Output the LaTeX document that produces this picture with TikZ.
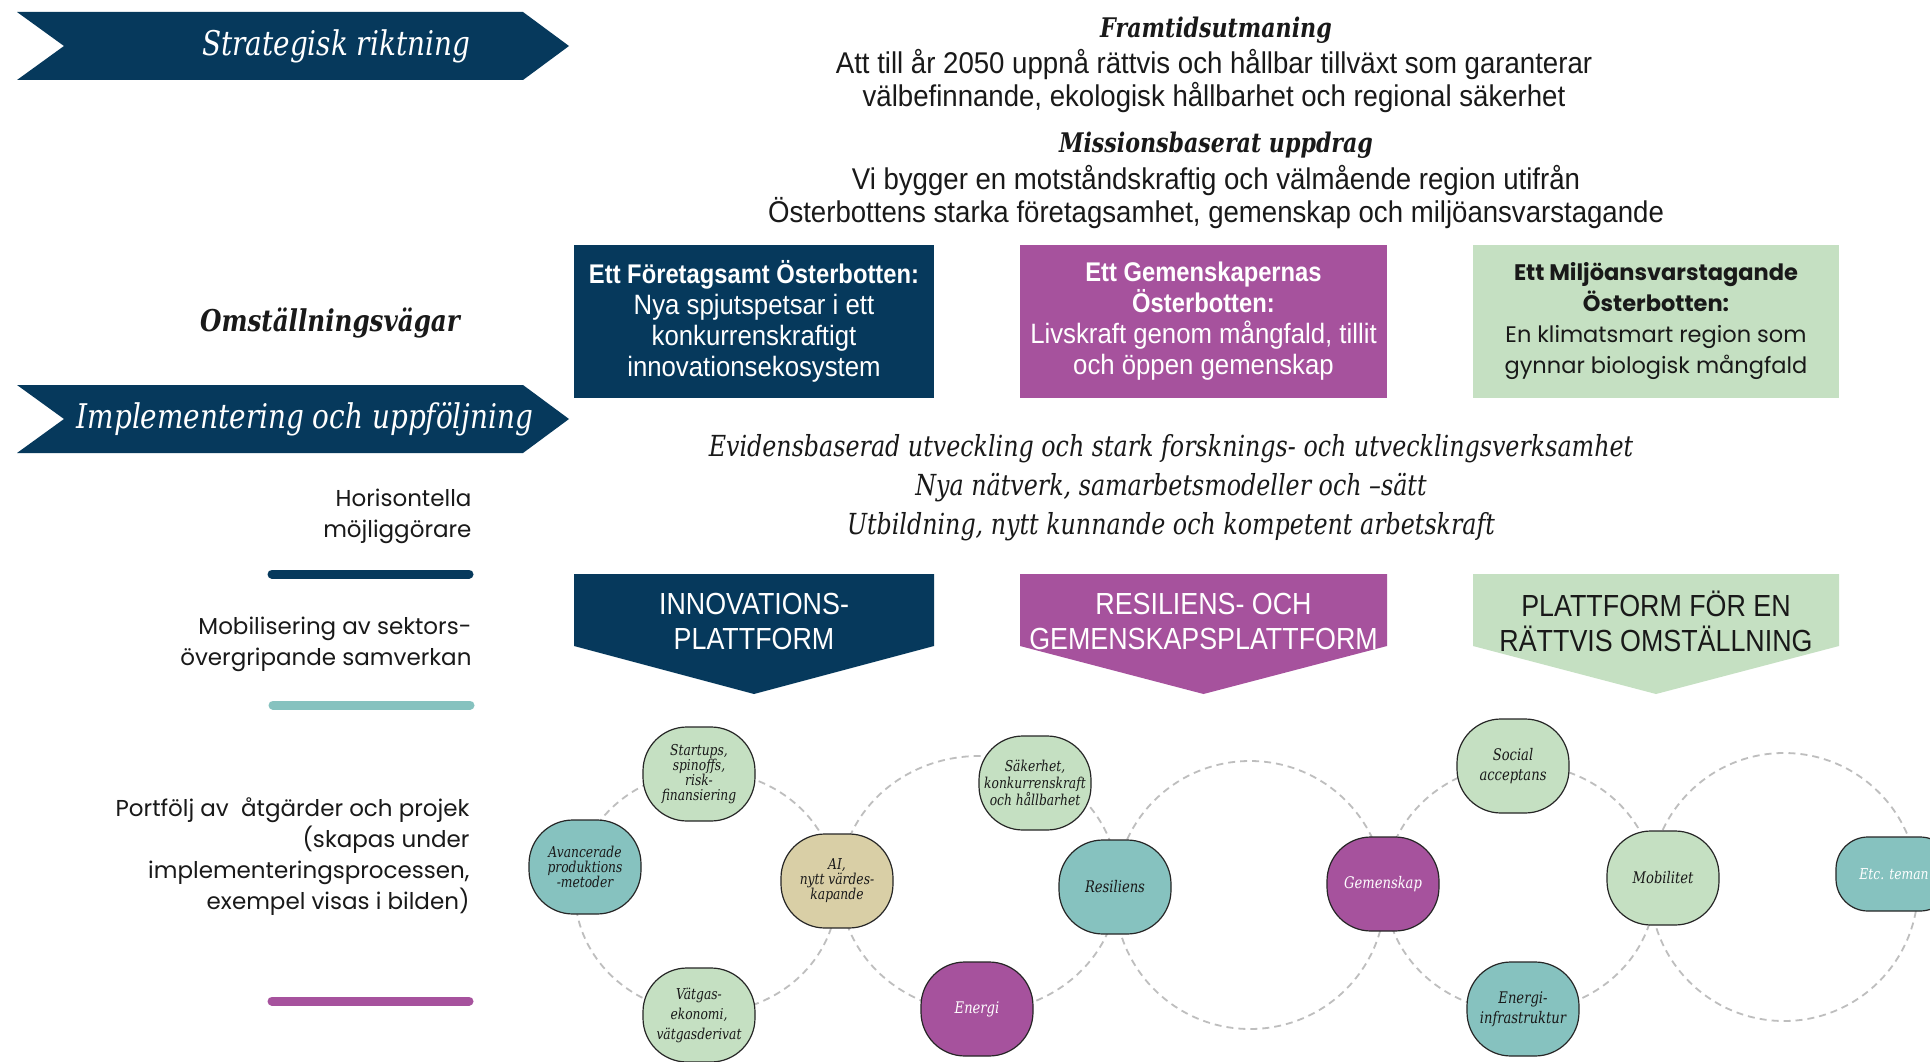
\documentclass[tikz,border=0pt]{standalone}
\usepackage{fontspec}
\setmainfont{Liberation Sans}
\newfontfamily\condsans[FakeStretch=0.88]{Liberation Sans}
\newfontfamily\condsansw[FakeStretch=0.92]{Liberation Sans}
\newfontfamily\slab[FakeStretch=0.82]{DejaVu Serif}
\newfontfamily\pop{Poppins}
\definecolor{navy}{RGB}{6,57,92}
\definecolor{purp}{RGB}{166,82,157}
\definecolor{lgreen}{RGB}{197,224,194}
\definecolor{teal}{RGB}{134,194,191}
\definecolor{tan}{RGB}{217,207,166}
\definecolor{dgray}{RGB}{190,190,190}
\definecolor{ink}{RGB}{25,25,25}
\begin{document}
\begin{tikzpicture}[x=1pt,y=-1pt,
  chev/.style={fill=navy},
  chevtext/.style={text=white,font=\slab\itshape\fontsize{34}{38}\selectfont},
  head/.style={text=ink,font=\slab\bfseries\itshape\fontsize{27}{32}\selectfont},
  toptext/.style={text=ink,align=center,font=\condsansw\fontsize{30}{33}\selectfont},
  ittext/.style={text=ink,font=\slab\itshape\fontsize{29}{32}\selectfont},
  vbox/.style={minimum width=360pt,minimum height=153pt,align=center,inner sep=0pt,
     font=\condsansw\fontsize{28}{31}\selectfont},
  boldl/.style={font=\condsans\bfseries\fontsize{27}{31}\selectfont},
  gbox/.style={minimum width=366pt,minimum height=153pt,align=center,inner sep=0pt,
     font=\pop\fontsize{22.5}{31}\selectfont},
  plat/.style={align=center,font=\condsans\fontsize{30.5}{35}\selectfont},
  lefttext/.style={anchor=east,align=right,text=ink,font=\pop\fontsize{23}{31}\selectfont},
  bar/.style={line width=9pt,line cap=round},
  dashcirc/.style={draw=dgray,line width=1.8pt,dash pattern=on 7pt off 5pt},
  tnode/.style={draw=black!85,line width=1.2pt,rounded corners=44pt,minimum width=112pt,
     minimum height=94pt,align=center,inner sep=1pt,text=ink,
     font=\slab\itshape\fontsize{15}{15}\selectfont},
  gn/.style={tnode,fill=lgreen},
  tn/.style={tnode,fill=teal},
  pn/.style={tnode,fill=purp,text=white},
  an/.style={tnode,fill=tan}
]
\clip (0,0) rectangle (1930,1062);
\fill[white] (0,0) rectangle (1930,1062);

% chevrons
\fill[chev] (17,12) -- (523,12) -- (569,46) -- (523,80) -- (17,80) -- (64,46) -- cycle;
\node[chevtext] (strat) at (336,46) {Strategisk riktning};
\fill[chev] (17,385) -- (523,385) -- (569,419) -- (523,453) -- (17,453) -- (64,419) -- cycle;
\node[chevtext] (impl) at (305,419) {Implementering och uppföljning};

% top texts
\node[head] (fram) at (1216,30) {Framtidsutmaning};
\node[toptext] (framt) at (1214,81) {Att till år 2050 uppnå rättvis och hållbar tillväxt som garanterar\\välbefinnande, ekologisk hållbarhet och regional säkerhet};
\node[head] (miss) at (1216,145) {Missionsbaserat uppdrag};
\node[toptext] (misst) at (1216,197) {Vi bygger en motståndskraftig och välmående region utifrån\\Österbottens starka företagsamhet, gemenskap och miljöansvarstagande};

\node[head,font=\slab\bfseries\itshape\fontsize{30}{34}\selectfont] (oms) at (330,323) {Omställningsvägar};

% boxes
\node[vbox,fill=navy,text=white] (b1) at (754,321.5) {{\condsans\bfseries\fontsize{27}{31}\selectfont Ett Företagsamt Österbotten:}\\Nya spjutspetsar i ett\\konkurrenskraftigt\\innovationsekosystem};
\node[vbox,fill=purp,text=white,minimum width=367pt] (b2) at (1203.5,321.5) {{\condsans\bfseries\fontsize{27}{31}\selectfont Ett Gemenskapernas}\\{\condsans\bfseries\fontsize{27}{31}\selectfont Österbotten:}\\Livskraft genom mångfald, tillit\\och öppen gemenskap};
\node[gbox,fill=lgreen,text=ink] (b3) at (1656,321.5) {{\bfseries Ett Miljöansvarstagande}\\{\bfseries Österbotten:}\\En klimatsmart region som\\gynnar biologisk mångfald};

% italic enablers
\node[ittext] (e1) at (1171,449) {Evidensbaserad utveckling och stark forsknings- och utvecklingsverksamhet};
\node[ittext] (e2) at (1171,488) {Nya nätverk, samarbetsmodeller och –sätt};
\node[ittext] (e3) at (1171,527) {Utbildning, nytt kunnande och kompetent arbetskraft};

% left labels and bars
\node[lefttext] (l1) at (475,516) {Horisontella\\möjliggörare};
\draw[bar,navy] (272,574) -- (469,574);
\node[lefttext] (l2) at (475,644) {Mobilisering av sektors-\\övergripande samverkan};
\draw[bar,teal] (273,705) -- (470,705);
\node[lefttext] (l3) at (473,857) {Portfölj av\ \ åtgärder och projek\\(skapas under\\implementeringsprocessen,\\exempel visas i bilden)};
\draw[bar,purp] (272,1001) -- (469,1001);

% platforms
\fill[navy] (574,574) -- (934,574) -- (934,646) -- (754,694) -- (574,646) -- cycle;
\node[plat,text=white] (p1) at (754,621) {INNOVATIONS-\\PLATTFORM};
\fill[purp] (1020,574) -- (1387,574) -- (1387,646) -- (1203.5,694) -- (1020,646) -- cycle;
\node[plat,text=white] (p2) at (1203.5,621) {RESILIENS- OCH\\GEMENSKAPSPLATTFORM};
\fill[lgreen] (1473,574) -- (1839,574) -- (1839,646) -- (1656,694) -- (1473,646) -- cycle;
\node[plat,text=ink] (p3) at (1656,621) {PLATTFORM FÖR EN\\RÄTTVIS OMSTÄLLNING};

% dashed circles
\draw[dashcirc] (706,892) ellipse [x radius=131, y radius=121];
\draw[dashcirc] (979,884) ellipse [x radius=139, y radius=128];
\draw[dashcirc] (1250,895) ellipse [x radius=135, y radius=134];
\draw[dashcirc] (1520,888) ellipse [x radius=135, y radius=124];
\draw[dashcirc] (1784,887) ellipse [x radius=134, y radius=134];

% theme nodes
\node[gn] (startups) at (699,774) {Startups,\\spinoffs,\\risk-\\finansiering};
\node[tn] (avanc) at (585,867) {Avancerade\\produktions\\-metoder};
\node[an] (ai) at (837,881) {AI,\\nytt värdes-\\kapande};
\node[gn,font=\slab\itshape\fontsize{15}{20}\selectfont] (vatgas) at (699,1015) {Vätgas-\\ekonomi,\\vätgasderivat};
\node[gn,font=\slab\itshape\fontsize{15}{17}\selectfont] (saker) at (1035,783) {Säkerhet,\\konkurrenskraft\\och hållbarhet};
\node[tn,font=\slab\itshape\fontsize{16}{18}\selectfont] (resil) at (1115,887) {Resiliens};
\node[pn,font=\slab\itshape\fontsize{16}{18}\selectfont] (energi) at (977,1009) {Energi};
\node[pn,font=\slab\itshape\fontsize{16}{18}\selectfont] (gemen) at (1383,884) {Gemenskap};
\node[gn,font=\slab\itshape\fontsize{16}{20}\selectfont] (social) at (1513,766) {Social\\acceptans};
\node[gn,font=\slab\itshape\fontsize{16}{18}\selectfont] (mobil) at (1663,878) {Mobilitet};
\node[tn,font=\slab\itshape\fontsize{16}{20}\selectfont] (einfra) at (1523,1009) {Energi-\\infrastruktur};
\node[tn,text=white,minimum height=74pt,minimum width=116pt,rounded corners=32pt,font=\slab\itshape\fontsize{15}{18}\selectfont] (etc) at (1894,874) {Etc. teman};
\end{tikzpicture}
\end{document}
